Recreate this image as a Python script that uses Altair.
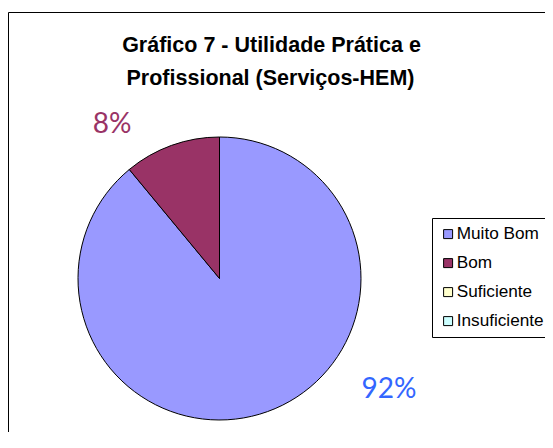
import altair as alt
import pandas as pd

categories = ["Muito Bom", "Bom", "Suficiente", "Insuficiente"]
shares = [89, 11, 0, 0]
colors = ["#9999FF", "#993366", "#FFFFCC", "#CCFFFF"]
pct_labels = ["92%", "8%"]
title_lines = ["Gráfico 7 - Utilidade Prática e", "Profissional (Serviços-HEM)"]

df = pd.DataFrame({"cat": categories, "share": shares, "idx": list(range(len(categories)))})
one = pd.DataFrame({"a": [0]})

frame = alt.Chart(one).mark_rect(filled=False, stroke="black", strokeWidth=1).encode(
    x=alt.value(0.5), y=alt.value(4.5), x2=alt.value(900), y2=alt.value(900)
)

pie = alt.Chart(df).transform_filter("datum.share > 0").mark_arc(
    stroke="black", strokeWidth=1, outerRadius=141.5
).encode(
    theta=alt.Theta("share:Q", stack=True),
    order=alt.Order("idx:Q", sort="ascending"),
    color=alt.Color(
        "cat:N",
        title=None,
        scale=alt.Scale(domain=categories, range=colors),
        legend=alt.Legend(
            orient="none", legendX=424, legendY=210,
            symbolType="square", symbolSize=81,
            symbolStrokeColor="black", symbolStrokeWidth=1,
            labelFont="Liberation Sans", labelFontSize=17.2, labelColor="black",
            labelOffset=0, rowPadding=11, padding=7.5,
            strokeColor="black", fillColor="white",
        ),
    ),
    x=alt.value(211.5),
    y=alt.value(270.5),
)

lbl_bom = alt.Chart(pd.DataFrame({"t": [pct_labels[1]]})).mark_text(
    font="Lato", fontSize=28, color="#993366", align="center", baseline="alphabetic"
).encode(text="t:N", x=alt.value(104), y=alt.value(125))

lbl_mb = alt.Chart(pd.DataFrame({"t": [pct_labels[0]]})).mark_text(
    font="Lato", fontSize=28, color="#3366FF", align="center", baseline="alphabetic"
).encode(text="t:N", x=alt.value(381), y=alt.value(390))

t1 = alt.Chart(pd.DataFrame({"t": [title_lines[0]]})).mark_text(
    font="Liberation Sans", fontSize=21.5, fontWeight="bold", color="black",
    align="center", baseline="alphabetic"
).encode(text="t:N", x=alt.value(263.5), y=alt.value(44))

t2 = alt.Chart(pd.DataFrame({"t": [title_lines[1]]})).mark_text(
    font="Liberation Sans", fontSize=21.5, fontWeight="bold", color="black",
    align="center", baseline="alphabetic"
).encode(text="t:N", x=alt.value(262.5), y=alt.value(77))

chart = alt.layer(frame, pie, lbl_bom, lbl_mb, t1, t2).properties(
    width=537, height=424, padding=0, autosize="none", background="white"
).configure_view(stroke="transparent")

chart.save("out.html", embed_options={"renderer": "svg", "actions": False})
